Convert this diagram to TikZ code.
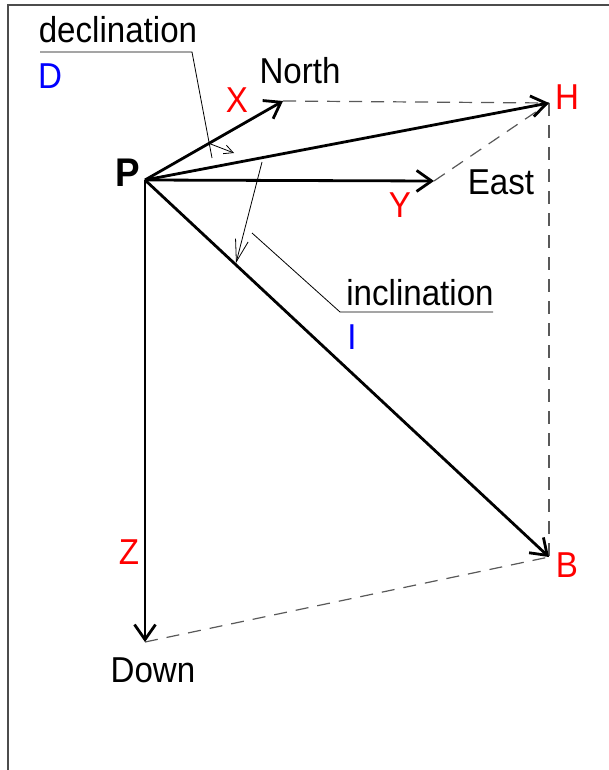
\documentclass[tikz,border=0pt]{standalone}
\usepackage{fontspec}
\setmainfont{Liberation Sans}[FakeStretch=0.92]
\usetikzlibrary{arrows.meta}
\begin{document}
\begin{tikzpicture}[x=1pt,y=-1pt,
  lbl/.style={font=\fontsize{36}{40}\selectfont, inner sep=0pt},
  redlbl/.style={lbl, text=red},
  bluelbl/.style={lbl, text=blue},
  vec/.style={line width=2.8pt, -{Straight Barb[length=15pt,width=21pt,line width=2.8pt]}},
  dashline/.style={line width=1.2pt, draw=black!65, dash pattern=on 13pt off 9pt},
  thinline/.style={line width=0.8pt},
  thinarrow/.style={line width=0.8pt, -{Straight Barb[length=9pt,width=9pt,line width=0.8pt]}},
  framestyle/.style={line width=1.4pt, draw=black!70}]
\useasboundingbox (0,0) rectangle (609,770);
\draw[framestyle] (8,770) -- (8,5) -- (609,5);

\coordinate (P) at (145,180);
\coordinate (Xt) at (283,101);
\coordinate (H) at (549,103);
\coordinate (Yt) at (434,181);
\coordinate (B) at (549,557);
\coordinate (Dn) at (145,642);

% dashed construction lines
\draw[dashline] (Xt) -- (H);
\draw[dashline] (Yt) -- (H);
\draw[dashline] (H) -- (B);
\draw[dashline] (Dn) -- (B);

% vectors
\draw[vec] (P) -- (Xt);
\draw[vec] (P) -- (Yt);
\draw[vec] (P) -- (H);
\draw[vec] (P) -- (B);
\draw[vec] (P) -- (Dn);

% angle arrows
\coordinate (d1) at (208,143);
\coordinate (d2) at (234,153);
\draw[thinarrow] (d1) -- (d2);
\coordinate (i1) at (262,162);
\coordinate (i2) at (236,263);
\draw[line width=0.8pt, -{Straight Barb[length=22pt,width=13pt,line width=0.8pt]}] (i1) -- (i2);

% leaders
\coordinate (dl1) at (40,52);
\coordinate (dl2) at (192,52);
\coordinate (dl3) at (212,158);
\draw[thinline] (dl1) -- (dl2) -- (dl3);
\coordinate (il1) at (493,312);
\coordinate (il2) at (340,312);
\coordinate (il3) at (252,233);
\draw[thinline] (il1) -- (il2) -- (il3);

% labels
\node[lbl] (declination) at (118,30) {declination};
\node[bluelbl] (Dlbl) at (50,76) {D};
\node[lbl] (north) at (300,71) {North};
\node[redlbl] (Xlbl) at (237,100) {X};
\node[redlbl] (Hlbl) at (567,97) {H};
\node[lbl] (east) at (501,182) {East};
\node[redlbl] (Ylbl) at (400,205) {Y};
\node[lbl, font=\fontsize{40}{44}\selectfont\bfseries] (Plbl) at (128,173) {P};
\node[lbl] (inclination) at (420,293) {inclination};
\node[bluelbl] (Ilbl) at (352,337) {I};
\node[redlbl] (Zlbl) at (129,552) {Z};
\node[redlbl] (Blbl) at (567,565) {B};
\node[lbl] (down) at (153,670) {Down};
\end{tikzpicture}
\end{document}
